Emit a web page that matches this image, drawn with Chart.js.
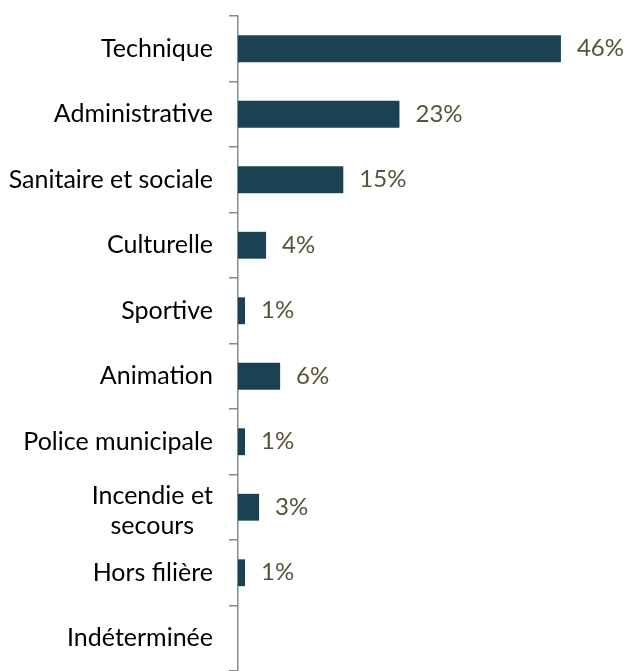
<!DOCTYPE html>
<html>
<head>
<meta charset="utf-8">
<script src="https://cdn.jsdelivr.net/npm/chart.js@4.4.1/dist/chart.umd.min.js"></script>
<style>
  html, body { margin: 0; padding: 0; background: #ffffff; overflow: hidden; }
  #wrap { width: 625px; height: 671px; position: relative; }
</style>
</head>
<body>
<div id="wrap"><canvas id="c"></canvas></div>
<script>
const categories = ['Technique', 'Administrative', 'Sanitaire et sociale', 'Culturelle', 'Sportive', 'Animation', 'Police municipale', ['Incendie et', 'secours'], 'Hors filière', 'Indéterminée'];
const values = [46, 23, 15, 4, 1, 6, 1, 3, 1, null];

const FONT = 'Lato, "Open Sans", sans-serif';
const FS = 25;
const VFS = 24;

const labelPlugin = {
  id: 'customLabels',
  afterDatasetsDraw(chart) {
    const ctx = chart.ctx;
    const yScale = chart.scales.y;
    const meta = chart.getDatasetMeta(0);
    ctx.save();
    // value labels
    ctx.font = VFS + 'px ' + FONT;
    ctx.fillStyle = '#595339';
    ctx.textAlign = 'left';
    ctx.textBaseline = 'middle';
    meta.data.forEach((bar, i) => {
      const v = values[i];
      if (v === null || v === undefined) return;
      ctx.fillText(v + '%', bar.x + 16, bar.y);
    });
    // category labels
    ctx.font = FS + 'px ' + FONT;
    ctx.fillStyle = '#000000';
    const right = chart.chartArea.left - 25;
    categories.forEach((c, i) => {
      const y = yScale.getPixelForValue(i);
      if (Array.isArray(c)) {
        const w = Math.max(...c.map(s => ctx.measureText(s).width));
        const cx = right - w / 2;
        ctx.textAlign = 'center';
        const lh = 30;
        c.forEach((s, k) => {
          ctx.fillText(s, cx, y + 4 + (k - (c.length - 1) / 2) * lh);
        });
      } else {
        ctx.textAlign = 'right';
        ctx.fillText(c, right, y);
      }
    });
    ctx.restore();
  }
};

new Chart(document.getElementById('c'), {
  type: 'bar',
  data: {
    labels: categories,
    datasets: [{
      data: values,
      backgroundColor: '#1b4252',
      borderWidth: 0,
      categoryPercentage: 1.0,
      barPercentage: 0.41
    }]
  },
  options: {
    indexAxis: 'y',
    responsive: true,
    maintainAspectRatio: false,
    animation: false,
    events: [],
    layout: { padding: { top: 16, right: 36, bottom: 0, left: 0 } },
    plugins: { legend: { display: false }, tooltip: { enabled: false } },
    scales: {
      x: { display: false, min: 0, max: 50 },
      y: {
        position: 'left',
        afterFit(scale) { scale.width = 238; scale.paddingTop = 0; scale.paddingBottom = 0; },
        border: { display: true, color: '#8a8a8a', width: 1.5 },
        grid: { display: true, drawOnChartArea: false, drawTicks: true, tickLength: 9, color: '#8a8a8a', lineWidth: 1.5, offset: true },
        ticks: { display: false }
      }
    }
  },
  plugins: [labelPlugin]
});
</script>
</body>
</html>
